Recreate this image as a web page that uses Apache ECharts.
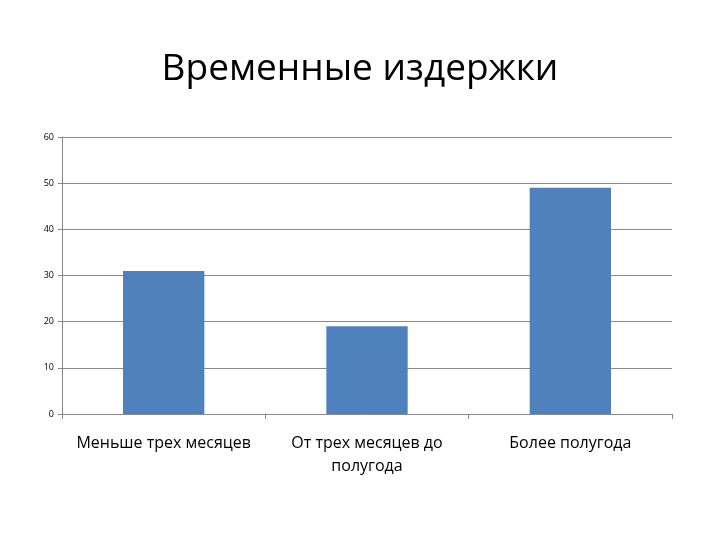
<!DOCTYPE html>
<html>
<head>
<meta charset="utf-8">
<script src="https://cdn.jsdelivr.net/npm/echarts@6/dist/echarts.min.js"></script>
<style>html,body{margin:0;padding:0;background:#fff}#chart{width:720px;height:540px}</style>
</head>
<body>
<div id="chart"></div>
<script>
const categories = ['Меньше трех месяцев', 'От трех месяцев до\nполугода', 'Более полугода'];
const values = [31, 19, 49];

const chart = echarts.init(document.getElementById('chart'));
chart.setOption({
    animation: false,
    title: {
        text: 'Временные издержки',
        left: 'center',
        top: 46,
        textStyle: { fontFamily: 'Open Sans', fontWeight: 'normal', fontSize: 37, color: '#000' }
    },
    grid: { left: 62, right: 48, top: 137, bottom: 126 },
    xAxis: {
        type: 'category',
        data: categories,
        axisLine: { lineStyle: { color: '#888' } },
        axisTick: { show: true, interval: 0, length: 5, lineStyle: { color: '#888' } },
        axisLabel: { interval: 0, fontFamily: 'Open Sans', fontSize: 16, color: '#000', lineHeight: 23, margin: 18 }
    },
    yAxis: {
        type: 'value',
        min: 0,
        max: 60,
        interval: 10,
        axisLine: { show: true, lineStyle: { color: '#888' } },
        axisTick: { show: true, length: 4, lineStyle: { color: '#888' } },
        splitLine: { lineStyle: { color: '#888' } },
        axisLabel: { fontFamily: 'Open Sans', fontSize: 9, color: '#000', margin: 8 }
    },
    series: [{
        type: 'bar',
        data: values,
        barWidth: '40%',
        itemStyle: { color: '#4f81bd' }
    }]
});
</script>
</body>
</html>
